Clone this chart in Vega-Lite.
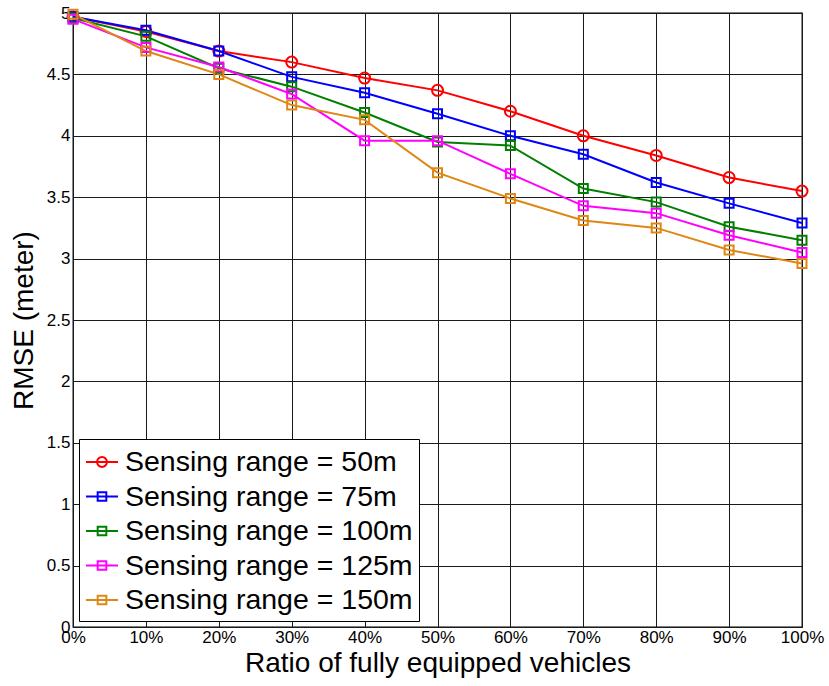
{
  "$schema": "https://vega.github.io/schema/vega-lite/v6.json",
  "autosize": {"type": "none"},
  "padding": {"left": 73, "top": 13, "right": 27, "bottom": 59},
  "width": 729,
  "height": 614,
  "background": "white",
  "data": {
    "values": [
      {"ratio": 0, "range": "Sensing range = 50m", "rmse": 4.97},
      {"ratio": 10, "range": "Sensing range = 50m", "rmse": 4.85},
      {"ratio": 20, "range": "Sensing range = 50m", "rmse": 4.69},
      {"ratio": 30, "range": "Sensing range = 50m", "rmse": 4.60},
      {"ratio": 40, "range": "Sensing range = 50m", "rmse": 4.47},
      {"ratio": 50, "range": "Sensing range = 50m", "rmse": 4.37},
      {"ratio": 60, "range": "Sensing range = 50m", "rmse": 4.20},
      {"ratio": 70, "range": "Sensing range = 50m", "rmse": 4.00},
      {"ratio": 80, "range": "Sensing range = 50m", "rmse": 3.84},
      {"ratio": 90, "range": "Sensing range = 50m", "rmse": 3.66},
      {"ratio": 100, "range": "Sensing range = 50m", "rmse": 3.55},
      {"ratio": 0, "range": "Sensing range = 75m", "rmse": 4.97},
      {"ratio": 10, "range": "Sensing range = 75m", "rmse": 4.86},
      {"ratio": 20, "range": "Sensing range = 75m", "rmse": 4.69},
      {"ratio": 30, "range": "Sensing range = 75m", "rmse": 4.48},
      {"ratio": 40, "range": "Sensing range = 75m", "rmse": 4.35},
      {"ratio": 50, "range": "Sensing range = 75m", "rmse": 4.18},
      {"ratio": 60, "range": "Sensing range = 75m", "rmse": 4.00},
      {"ratio": 70, "range": "Sensing range = 75m", "rmse": 3.85},
      {"ratio": 80, "range": "Sensing range = 75m", "rmse": 3.62},
      {"ratio": 90, "range": "Sensing range = 75m", "rmse": 3.45},
      {"ratio": 100, "range": "Sensing range = 75m", "rmse": 3.29},
      {"ratio": 0, "range": "Sensing range = 100m", "rmse": 4.96},
      {"ratio": 10, "range": "Sensing range = 100m", "rmse": 4.81},
      {"ratio": 20, "range": "Sensing range = 100m", "rmse": 4.55},
      {"ratio": 30, "range": "Sensing range = 100m", "rmse": 4.40},
      {"ratio": 40, "range": "Sensing range = 100m", "rmse": 4.19},
      {"ratio": 50, "range": "Sensing range = 100m", "rmse": 3.95},
      {"ratio": 60, "range": "Sensing range = 100m", "rmse": 3.92},
      {"ratio": 70, "range": "Sensing range = 100m", "rmse": 3.57},
      {"ratio": 80, "range": "Sensing range = 100m", "rmse": 3.46},
      {"ratio": 90, "range": "Sensing range = 100m", "rmse": 3.26},
      {"ratio": 100, "range": "Sensing range = 100m", "rmse": 3.15},
      {"ratio": 0, "range": "Sensing range = 125m", "rmse": 4.95},
      {"ratio": 10, "range": "Sensing range = 125m", "rmse": 4.72},
      {"ratio": 20, "range": "Sensing range = 125m", "rmse": 4.56},
      {"ratio": 30, "range": "Sensing range = 125m", "rmse": 4.34},
      {"ratio": 40, "range": "Sensing range = 125m", "rmse": 3.96},
      {"ratio": 50, "range": "Sensing range = 125m", "rmse": 3.96},
      {"ratio": 60, "range": "Sensing range = 125m", "rmse": 3.69},
      {"ratio": 70, "range": "Sensing range = 125m", "rmse": 3.43},
      {"ratio": 80, "range": "Sensing range = 125m", "rmse": 3.37},
      {"ratio": 90, "range": "Sensing range = 125m", "rmse": 3.19},
      {"ratio": 100, "range": "Sensing range = 125m", "rmse": 3.05},
      {"ratio": 0, "range": "Sensing range = 150m", "rmse": 4.99},
      {"ratio": 10, "range": "Sensing range = 150m", "rmse": 4.69},
      {"ratio": 20, "range": "Sensing range = 150m", "rmse": 4.50},
      {"ratio": 30, "range": "Sensing range = 150m", "rmse": 4.25},
      {"ratio": 40, "range": "Sensing range = 150m", "rmse": 4.13},
      {"ratio": 50, "range": "Sensing range = 150m", "rmse": 3.70},
      {"ratio": 60, "range": "Sensing range = 150m", "rmse": 3.49},
      {"ratio": 70, "range": "Sensing range = 150m", "rmse": 3.31},
      {"ratio": 80, "range": "Sensing range = 150m", "rmse": 3.25},
      {"ratio": 90, "range": "Sensing range = 150m", "rmse": 3.07},
      {"ratio": 100, "range": "Sensing range = 150m", "rmse": 2.96}
    ]
  },
  "encoding": {
    "x": {
      "field": "ratio",
      "type": "quantitative",
      "scale": {"domain": [0, 100], "nice": false, "zero": false},
      "axis": {
        "title": "Ratio of fully equipped vehicles",
        "values": [0, 10, 20, 30, 40, 50, 60, 70, 80, 90, 100],
        "labelExpr": "datum.value + '%'",
        "labelPadding": 2,
        "titlePadding": 4
      }
    },
    "y": {
      "field": "rmse",
      "type": "quantitative",
      "scale": {"domain": [0, 5], "nice": false, "zero": false},
      "axis": {
        "title": "RMSE (meter)",
        "values": [0, 0.5, 1, 1.5, 2, 2.5, 3, 3.5, 4, 4.5, 5],
        "format": "~g",
        "labelPadding": 3,
        "titlePadding": 8
      }
    },
    "color": {
      "field": "range",
      "type": "nominal",
      "scale": {
        "domain": ["Sensing range = 50m", "Sensing range = 75m", "Sensing range = 100m", "Sensing range = 125m", "Sensing range = 150m"],
        "range": ["#FF0000", "#0000FF", "#008000", "#FF00FF", "#DE8714"]
      },
      "legend": {
        "title": null,
        "orient": "bottom-left",
        "offset": 6,
        "padding": 6,
        "strokeColor": "black",
        "fillColor": "white",
        "labelFont": "Liberation Sans",
        "labelFontSize": 28.5,
        "labelColor": "black",
        "labelLimit": 0,
        "labelOffset": 6,
        "symbolSize": 1024,
        "symbolStrokeWidth": 2,
        "rowPadding": 2.5,
        "encode": {
          "symbols": {
            "update": {
              "fill": {"value": "transparent"},
              "strokeWidth": {"value": 2},
              "shape": {"signal": "datum.value === 'Sensing range = 50m' ? 'M-1,0H1M-0.31,0A0.31,0.31 0 1,1 0.31,0A0.31,0.31 0 1,1 -0.31,0Z' : 'M-1,0H1M-0.27,-0.27H0.27V0.27H-0.27Z'"}
            }
          }
        }
      }
    }
  },
  "layer": [
    {
      "mark": {"type": "line", "strokeWidth": 2}
    },
    {
      "transform": [{"filter": "datum.range === 'Sensing range = 50m'"}],
      "mark": {"type": "point", "shape": "circle", "size": 121, "filled": false, "strokeWidth": 2, "opacity": 1}
    },
    {
      "transform": [{"filter": "datum.range !== 'Sensing range = 50m'"}],
      "mark": {"type": "point", "shape": "square", "size": 81, "filled": false, "strokeWidth": 2, "opacity": 1}
    }
  ],
  "config": {
    "font": "Liberation Sans",
    "view": {"stroke": "black", "strokeWidth": 1.3},
    "axis": {
      "domain": false,
      "ticks": false,
      "grid": true,
      "gridColor": "#1a1a1a",
      "gridWidth": 1,
      "gridOpacity": 1,
      "labelFont": "Liberation Sans",
      "labelFontSize": 17,
      "labelColor": "black",
      "labelFlush": false,
      "labelOverlap": false,
      "titleFont": "Liberation Sans",
      "titleFontSize": 28,
      "titleFontWeight": "normal",
      "titleColor": "black"
    }
  }
}
